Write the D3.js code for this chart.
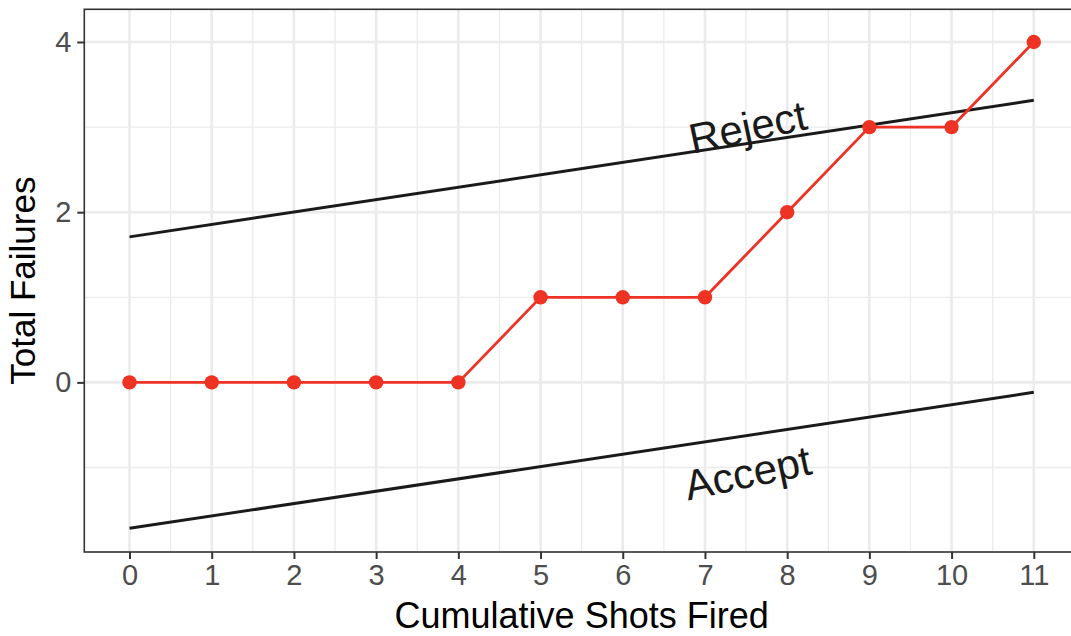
<!DOCTYPE html>
<html>
<head>
<meta charset="utf-8">
<script src="https://cdn.jsdelivr.net/npm/d3@7"></script>
<style>
  html, body { margin: 0; padding: 0; background: #fff; }
  svg { display: block; font-family: "Liberation Sans", Arial, sans-serif; }
</style>
</head>
<body>
<svg id="chart" width="1071" height="636"></svg>
<script>
// ---- data ----
const shots = [0, 1, 2, 3, 4, 5, 6, 7, 8, 9, 10, 11];
const failures = [0, 0, 0, 0, 0, 1, 1, 1, 2, 3, 3, 4];
const boundaryX = [0, 11];
const rejectY = [1.71, 3.315];
const acceptY = [-1.715, -0.117];
const labelText = ["Reject", "Accept"];
const labelX = [7.52, 7.52];
const labelY = [3.0, -1.065];
const xTicks = [0, 1, 2, 3, 4, 5, 6, 7, 8, 9, 10, 11];
const xMinor = [0.5, 1.5, 2.5, 3.5, 4.5, 5.5, 6.5, 7.5, 8.5, 9.5, 10.5];
const yTicks = [0, 2, 4];
const yMinor = [-1, 1, 3];

// ---- layout ----
const svg = d3.select("#chart");
const P = { left: 84.3, right: 1079, top: 9.3, bottom: 552 };
const x = d3.scaleLinear().domain([-0.55, 11.55]).range([P.left, P.right]);
const y = d3.scaleLinear().domain([-1.993, 4.384]).range([P.bottom, P.top]);

svg.append("defs").append("clipPath").attr("id", "clip")
  .append("rect").attr("x", P.left).attr("y", P.top)
  .attr("width", P.right - P.left).attr("height", P.bottom - P.top);

const panel = svg.append("g").attr("clip-path", "url(#clip)");

// grid
panel.selectAll(".xminor").data(xMinor).join("line")
  .attr("x1", d => x(d)).attr("x2", d => x(d))
  .attr("y1", P.top).attr("y2", P.bottom)
  .attr("stroke", "#EBEBEB").attr("stroke-width", 1.3);
panel.selectAll(".yminor").data(yMinor).join("line")
  .attr("y1", d => y(d)).attr("y2", d => y(d))
  .attr("x1", P.left).attr("x2", P.right)
  .attr("stroke", "#EBEBEB").attr("stroke-width", 1.3);
panel.selectAll(".xmajor").data(xTicks).join("line")
  .attr("x1", d => x(d)).attr("x2", d => x(d))
  .attr("y1", P.top).attr("y2", P.bottom)
  .attr("stroke", "#EBEBEB").attr("stroke-width", 2.6);
panel.selectAll(".ymajor").data(yTicks).join("line")
  .attr("y1", d => y(d)).attr("y2", d => y(d))
  .attr("x1", P.left).attr("x2", P.right)
  .attr("stroke", "#EBEBEB").attr("stroke-width", 2.6);

// boundary lines
const bline = d3.line().x(d => x(d[0])).y(d => y(d[1]));
[rejectY, acceptY].forEach(ys => {
  panel.append("path")
    .datum(boundaryX.map((bx, i) => [bx, ys[i]]))
    .attr("d", bline)
    .attr("fill", "none").attr("stroke", "#1a1a1a").attr("stroke-width", 3);
});

// labels
panel.selectAll(".lbl").data(labelText).join("text")
  .attr("transform", (d, i) => `translate(${x(labelX[i])},${y(labelY[i])}) rotate(-12)`)
  .attr("text-anchor", "middle").attr("dominant-baseline", "central")
  .attr("font-size", 42).attr("fill", "#1a1a1a")
  .text(d => d);

// red series
const red = "#EE3224";
const pts = shots.map((s, i) => [s, failures[i]]);
panel.append("path").datum(pts).attr("d", bline)
  .attr("fill", "none").attr("stroke", red).attr("stroke-width", 2.8);
panel.selectAll(".pt").data(pts).join("circle")
  .attr("cx", d => x(d[0])).attr("cy", d => y(d[1])).attr("r", 7.2)
  .attr("fill", red);

// panel border
svg.append("rect").attr("x", P.left).attr("y", P.top)
  .attr("width", P.right - P.left).attr("height", P.bottom - P.top)
  .attr("fill", "none").attr("stroke", "#333333").attr("stroke-width", 1.6);

// axes
const xAxis = svg.append("g").attr("transform", `translate(0,${P.bottom})`)
  .call(d3.axisBottom(x).tickValues(xTicks).tickFormat(d3.format("d")).tickSize(7).tickSizeOuter(0).tickPadding(5));
const yAxis = svg.append("g").attr("transform", `translate(${P.left},0)`)
  .call(d3.axisLeft(y).tickValues(yTicks).tickFormat(d3.format("d")).tickSize(7).tickSizeOuter(0).tickPadding(6));
[xAxis, yAxis].forEach(a => {
  a.select(".domain").remove();
  a.selectAll(".tick line").attr("stroke", "#333333").attr("stroke-width", 2);
  a.selectAll(".tick text").attr("fill", "#4D4D4D").attr("font-size", 29)
    .attr("font-family", "'Liberation Sans', Arial, sans-serif");
});

// titles
svg.append("text").attr("x", (P.left + P.right) / 2).attr("y", 628)
  .attr("text-anchor", "middle").attr("font-size", 36).attr("fill", "#000")
  .text("Cumulative Shots Fired");
svg.append("text")
  .attr("transform", `translate(35,${(P.top + P.bottom) / 2}) rotate(-90)`)
  .attr("text-anchor", "middle").attr("font-size", 35).attr("fill", "#000")
  .text("Total Failures");
</script>
</body>
</html>
